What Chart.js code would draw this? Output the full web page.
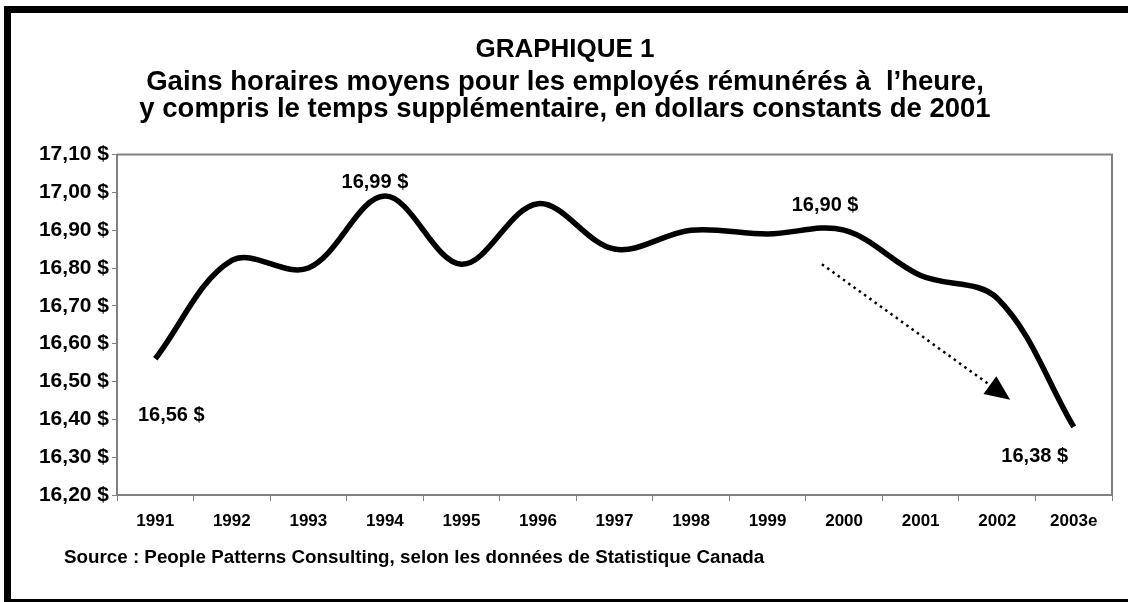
<!DOCTYPE html>
<html>
<head>
  <title>Graphique 1</title>
  <script src="https://cdn.jsdelivr.net/npm/chart.js@4.4.1/dist/chart.umd.min.js"></script>
  <style>
    html, body { margin: 0; padding: 0; background: #fff; overflow: hidden; }
    #wrap { position: relative; width: 1128px; height: 602px; }
  </style>
</head>
<body>
  <div id="wrap"><canvas id="gainsChart"></canvas></div>

  <script>
    // data
    var years = ['1991', '1992', '1993', '1994', '1995', '1996', '1997', '1998', '1999', '2000', '2001', '2002', '2003e'];
    var earnings = [16.56, 16.82, 16.80, 16.99, 16.81, 16.97, 16.85, 16.90, 16.89, 16.90, 16.78, 16.72, 16.38];
    var yMin = 16.2, yMax = 17.1, yStep = 0.1;

    // which points get a value label, and where the label sits (px from the point)
    var labelAt = [3, 9, 0, 12];
    var labelDx = [-10, -19, 16, -39];
    var labelDy = [-14, -25, 57, 30];

    // dotted trend arrow, in (category index, value)
    var trendFrom = { x: 8.71, y: 16.81 };
    var trendTo = { x: 11.17, y: 16.452 };

    var titleText = 'GRAPHIQUE 1';
    var subtitleText = ['Gains horaires moyens pour les employés rémunérés à  l\u2019heure,',
                        'y compris le temps supplémentaire, en dollars constants de 2001'];
    var sourceText = 'Source : People Patterns Consulting, selon les données de Statistique Canada';

    var FONT = "'Liberation Sans', Arial, sans-serif";

    function money(v) {
      return v.toFixed(2).replace('.', ',') + ' $';
    }

    var decor = {
      id: 'decor',
      beforeDraw: function(chart) {
        var ctx = chart.ctx;
        ctx.save();
        ctx.fillStyle = '#fff';
        ctx.fillRect(0, 0, chart.width, chart.height);
        ctx.restore();
      },
      afterDatasetsDraw: function(chart) {
        var ctx = chart.ctx, a = chart.chartArea;
        var xs = chart.scales.x, ys = chart.scales.y;
        ctx.save();
        // top and right edge of the plot box
        ctx.strokeStyle = '#808080';
        ctx.lineWidth = 2;
        ctx.beginPath();
        ctx.moveTo(a.left, a.top);
        ctx.lineTo(a.right, a.top);
        ctx.lineTo(a.right, a.bottom);
        ctx.stroke();

        // value labels
        ctx.fillStyle = '#000';
        ctx.font = 'bold 20px ' + FONT;
        ctx.textAlign = 'center';
        ctx.textBaseline = 'middle';
        for (var i = 0; i < labelAt.length; i++) {
          var k = labelAt[i];
          var px = xs.getPixelForValue(k), py = ys.getPixelForValue(earnings[k]);
          ctx.fillText(money(earnings[k]), px + labelDx[i], py + labelDy[i]);
        }

        // dotted arrow
        var x0 = xs.getPixelForValue(trendFrom.x), y0 = ys.getPixelForValue(trendFrom.y);
        var x1 = xs.getPixelForValue(trendTo.x), y1 = ys.getPixelForValue(trendTo.y);
        var ang = Math.atan2(y1 - y0, x1 - x0);
        var headLen = 25, headW = 11;
        var bx = x1 - headLen * Math.cos(ang), by = y1 - headLen * Math.sin(ang);
        ctx.strokeStyle = '#000';
        ctx.lineWidth = 2.5;
        ctx.setLineDash([2.5, 4]);
        ctx.beginPath();
        ctx.moveTo(x0, y0);
        ctx.lineTo(bx, by);
        ctx.stroke();
        ctx.setLineDash([]);
        ctx.beginPath();
        ctx.moveTo(x1, y1);
        ctx.lineTo(bx + headW * Math.sin(ang), by - headW * Math.cos(ang));
        ctx.lineTo(bx - headW * Math.sin(ang), by + headW * Math.cos(ang));
        ctx.closePath();
        ctx.fill();
        ctx.restore();
      },
      afterDraw: function(chart) {
        var ctx = chart.ctx;
        ctx.save();
        ctx.fillStyle = '#000';
        ctx.font = 'bold 18.8px ' + FONT;
        ctx.textAlign = 'left';
        ctx.textBaseline = 'alphabetic';
        ctx.fillText(sourceText, 64, 563);
        // outer frame (right side falls off the picture)
        ctx.fillRect(4, 6, 7, chart.height);
        ctx.fillRect(4, 6, chart.width, 7);
        ctx.fillRect(4, 599, chart.width, 4);
        ctx.restore();
      }
    };

    var ctx = document.getElementById('gainsChart').getContext('2d');

    var gainsChart = new Chart(ctx, {
      type: 'line',
      data: {
        labels: years,
        datasets: [{
          data: earnings,
          borderColor: '#000',
          borderWidth: 5.5,
          borderJoinStyle: 'round',
          pointRadius: 0,
          tension: 0.35,
          fill: false
        }]
      },
      options: {
        responsive: true,
        maintainAspectRatio: false,
        animation: false,
        layout: { padding: { left: 18, right: 16, top: 0, bottom: 67 } },
        plugins: {
          legend: { display: false },
          tooltip: { enabled: false },
          title: {
            display: true,
            text: titleText,
            color: '#000',
            font: { family: FONT, size: 26, weight: 'bold', lineHeight: 1.1 },
            padding: { top: 36, bottom: 0 }
          },
          subtitle: {
            display: true,
            text: subtitleText,
            color: '#000',
            font: { family: FONT, size: 27.5, weight: 'bold', lineHeight: 0.98 },
            padding: { top: 4, bottom: 32 }
          }
        },
        scales: {
          x: {
            offset: true,
            border: { color: '#808080', width: 2 },
            grid: { display: true, drawOnChartArea: false, drawTicks: true, tickLength: 6, color: '#808080', offset: true },
            ticks: { color: '#000', font: { family: FONT, size: 17, weight: 'bold' }, padding: 10, maxRotation: 0, autoSkip: false },
            afterFit: function(scale) { scale.height = 40; }
          },
          y: {
            min: yMin,
            max: yMax,
            border: { color: '#808080', width: 2 },
            grid: { display: true, drawOnChartArea: false, drawTicks: true, tickLength: 5, color: '#808080' },
            ticks: {
              stepSize: yStep,
              color: '#000',
              padding: 3,
              font: { family: FONT, size: 21, weight: 'bold' },
              callback: function(v) { return money(v); }
            },
            afterFit: function(scale) { scale.width = 99; }
          }
        }
      },
      plugins: [decor]
    });
  </script>
</body>
</html>
